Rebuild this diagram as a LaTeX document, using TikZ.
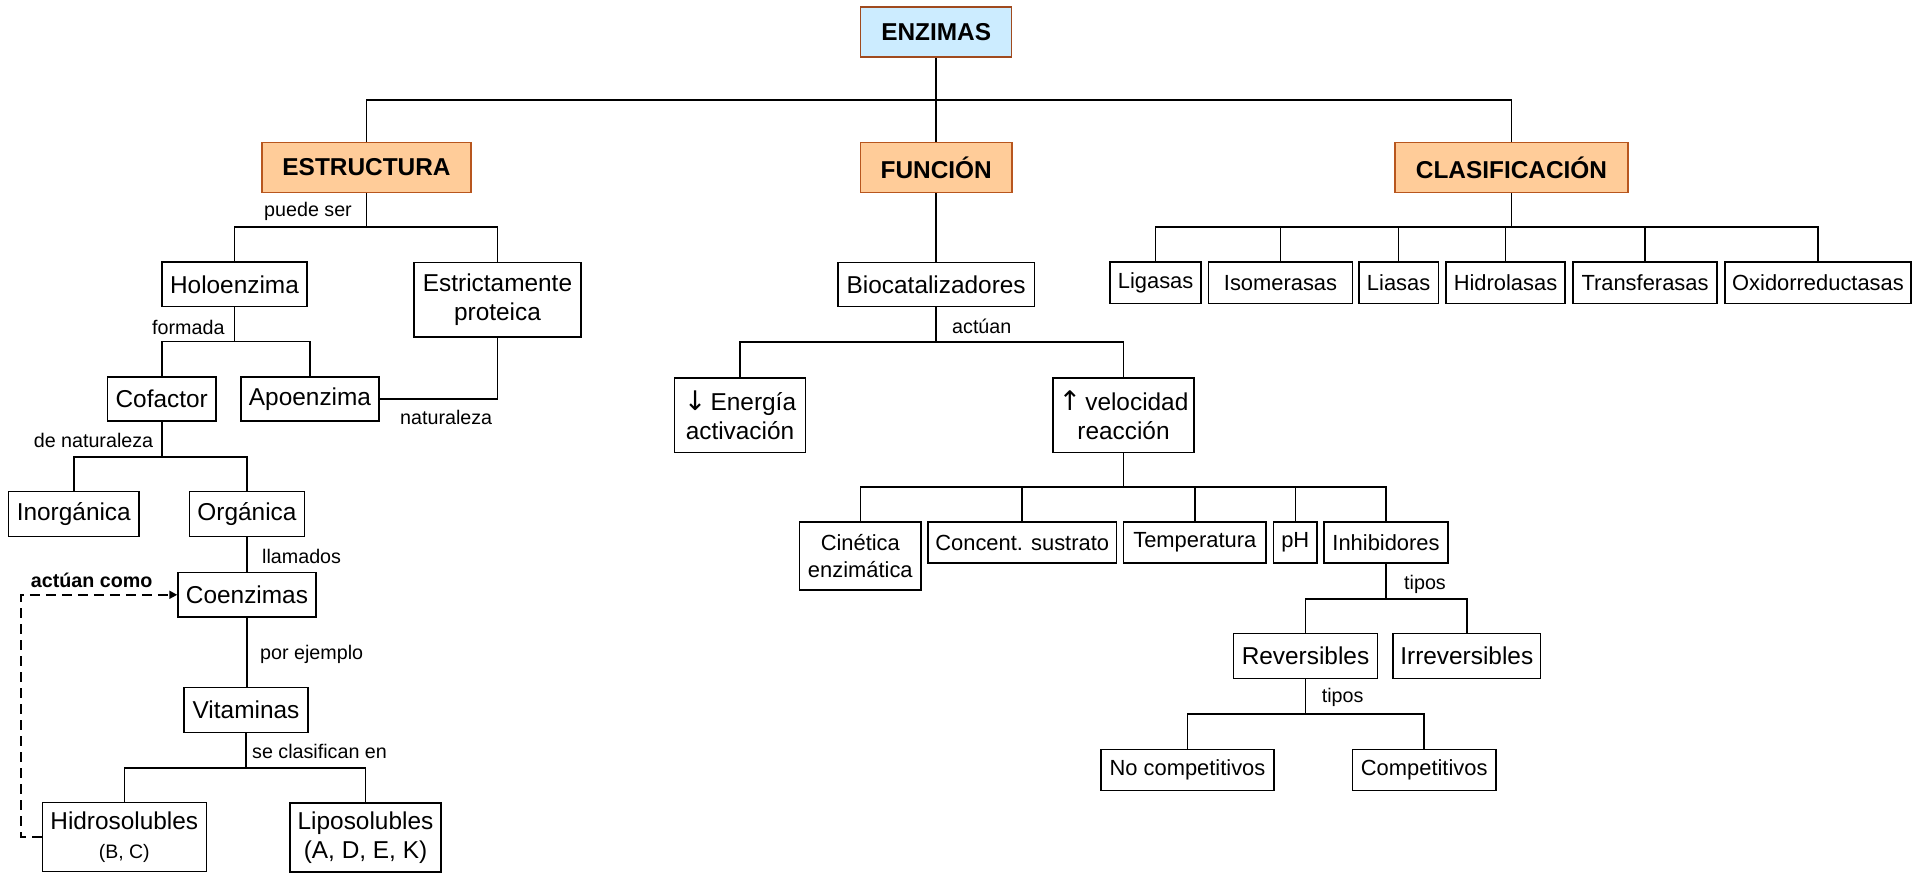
\documentclass[tikz,border=0pt]{standalone}
\usepackage{fontspec}
\setmainfont{Liberation Sans}
\newfontfamily\arrfont{DejaVu Sans}
\usetikzlibrary{arrows.meta}
\definecolor{peach}{HTML}{FFCC99}
\definecolor{hdborder}{HTML}{B8561E}
\definecolor{skyfill}{HTML}{CCECFF}
\definecolor{enzborder}{HTML}{A04A1E}
\newcommand{\bigarr}[1]{{\arrfont\fontsize{27}{29.5}\selectfont #1}}
\tikzset{
  bx/.style={draw=black, line width=1.5pt, inner sep=0pt, align=center, font=\fontsize{24.4}{29.5}\selectfont},
  bxs/.style={bx, font=\fontsize{21.9}{26.5}\selectfont},
  hd/.style={bx, fill=peach, draw=hdborder, font=\bfseries\fontsize{24.4}{29}\selectfont},
  lbl/.style={inner sep=0pt, anchor=west, font=\fontsize{19.7}{23}\selectfont},
  ln/.style={line width=1.6pt},
  dashln/.style={line width=2.3pt, dash pattern=on 10pt off 6pt, -{Triangle[length=8pt,width=8pt]}},
}
\begin{document}
\begin{tikzpicture}[x=1pt,y=-1pt]
\useasboundingbox (0,0) rectangle (1914,874);
% top
\node[hd, fill=skyfill, draw=enzborder, minimum width=151pt, minimum height=50pt] (enz) at (936.2,32) {ENZIMAS};
\node[hd, minimum width=209pt, minimum height=49.6pt] (est) at (366.5,167.5) {ESTRUCTURA};
\node[hd, minimum width=151.6pt, minimum height=49.6pt] (fun) at (936.2,167.5) {FUNCIÓN};
\node[hd, minimum width=233pt, minimum height=49.6pt] (cla) at (1511.5,167.5) {CLASIFICACIÓN};
% estructura
\node[bx, minimum width=145pt, minimum height=44.7pt] (holo) at (234.5,284.3) {Holoenzima};
\node[bx, minimum width=167pt, minimum height=74.3pt] (estr) at (497.5,299.8) {Estrictamente\\proteica};
\node[bx, minimum width=108.5pt, minimum height=44pt] (cof) at (161.7,399) {Cofactor};
\node[bx, minimum width=138pt, minimum height=44pt] (apo) at (310,399) {Apoenzima};
\node[bx, minimum width=130.3pt, minimum height=45pt] (inor) at (73.8,514.2) {Inorgánica};
\node[bx, minimum width=115pt, minimum height=45pt] (org) at (247,514.2) {Orgánica};
\node[bx, minimum width=138pt, minimum height=44.3pt] (coen) at (247,594.8) {Coenzimas};
\node[bx, minimum width=124pt, minimum height=44.6pt] (vit) at (246,710) {Vitaminas};
\node[bx, minimum width=164pt, minimum height=69pt] (hidro) at (124.3,837.2) {Hidrosolubles\\\fontsize{19.5}{23}\selectfont (B, C)};
\node[bx, minimum width=151pt, minimum height=69pt] (lipo) at (365.5,837.5) {Liposolubles\\(A, D, E, K)};
% funcion
\node[bx, minimum width=196.7pt, minimum height=44.4pt] (bio) at (936.2,284.5) {Biocatalizadores};
\node[bx, minimum width=130.6pt, minimum height=74.7pt] (ene) at (740,415.3) {\bigarr{↓}\,Energía\\activación};
\node[bx, minimum width=141pt, minimum height=74.7pt] (vel) at (1123.5,415.3) {\bigarr{↑}\,velocidad\\reacción};
\node[bxs, minimum width=121.3pt, minimum height=68pt] (cin) at (860.3,556) {Cinética\\enzimática};
\node[bxs, minimum width=188.5pt, minimum height=41pt] (con) at (1022.2,542.5) {Concent. sustrato};
\node[bxs, minimum width=142.3pt, minimum height=41pt] (tem) at (1194.8,542.5) {Temperatura};
\node[bxs, minimum width=43.3pt, minimum height=41pt] (ph) at (1295.3,542.5) {pH};
\node[bxs, minimum width=124pt, minimum height=41pt] (inh) at (1386,542.5) {Inhibidores};
\node[bx, minimum width=144pt, minimum height=44.6pt] (rev) at (1305.5,656) {Reversibles};
\node[bx, minimum width=147.4pt, minimum height=44.6pt] (irr) at (1466.8,656) {Irreversibles};
\node[bxs, minimum width=173pt, minimum height=41.4pt] (noc) at (1187.5,770) {No competitivos};
\node[bxs, minimum width=143.2pt, minimum height=41.4pt] (com) at (1424.2,770) {Competitivos};
% clasificacion
\node[bxs, minimum width=91.2pt, minimum height=41.3pt] (lig) at (1155.6,282.7) {Ligasas};
\node[bxs, minimum width=143.6pt, minimum height=41.3pt] (iso) at (1280.5,282.7) {Isomerasas};
\node[bxs, minimum width=79.3pt, minimum height=41.3pt] (lia) at (1398.6,282.7) {Liasas};
\node[bxs, minimum width=119pt, minimum height=41.3pt] (hid) at (1505.5,282.7) {Hidrolasas};
\node[bxs, minimum width=144pt, minimum height=41.3pt] (tra) at (1645,282.7) {Transferasas};
\node[bxs, minimum width=186pt, minimum height=41.3pt] (oxi) at (1818,282.7) {Oxidorreductasas};
% junctions
\coordinate (jt) at (936.2,100);
\coordinate (j1) at (366.5,227);
\coordinate (j2) at (234.5,341.7);
\coordinate (j3) at (161.7,456.7);
\coordinate (j4) at (246,767.7);
\coordinate (j5) at (936.2,342);
\coordinate (j6) at (1123.5,486.7);
\coordinate (j7) at (1386,598.7);
\coordinate (j8) at (1305.5,714);
\coordinate (j9) at (1511.5,227);
% connectors
\draw[ln] (enz.south) -- (fun.north);
\draw[ln] (est.north) |- (jt) -| (cla.north);
\draw[ln] (est.south) -- (j1);
\draw[ln] (holo.north) |- (j1) -| (estr.north);
\draw[ln] (holo.south) -- (j2);
\draw[ln] (cof.north) |- (j2) -| (apo.north);
\draw[ln] (estr.south) |- (apo.east);
\draw[ln] (cof.south) -- (j3);
\draw[ln] (inor.north) |- (j3) -| (org.north);
\draw[ln] (org.south) -- (coen.north);
\draw[ln] (coen.south) -- (coen.south |- vit.north);
\draw[ln] (vit.south) -- (j4);
\draw[ln] (hidro.north) |- (j4) -| (lipo.north);
\draw[dashln] (hidro.west) -- ++(-20.6,0) |- (coen.west);
\draw[ln] (fun.south) -- (bio.north);
\draw[ln] (bio.south) -- (j5);
\draw[ln] (ene.north) |- (j5) -| (vel.north);
\draw[ln] (vel.south) -- (j6);
\draw[ln] (cin.north) |- (j6) -| (inh.north);
\draw[ln] (con.north) -- (con.north |- j6);
\draw[ln] (tem.north) -- (tem.north |- j6);
\draw[ln] (ph.north) -- (ph.north |- j6);
\draw[ln] (inh.south) -- (j7);
\draw[ln] (rev.north) |- (j7) -| (irr.north);
\draw[ln] (rev.south) -- (j8);
\draw[ln] (noc.north) |- (j8) -| (com.north);
\draw[ln] (cla.south) -- (j9);
\draw[ln] (lig.north) |- (j9) -| (oxi.north);
\draw[ln] (iso.north) -- (iso.north |- j9);
\draw[ln] (lia.north) -- (lia.north |- j9);
\draw[ln] (hid.north) -- (hid.north |- j9);
\draw[ln] (tra.north) -- (tra.north |- j9);
% labels
\node[lbl] (l1) at (264,211) {puede ser};
\node[lbl] (l2) at (152,327) {formada};
\node[lbl] (l3) at (400,417) {naturaleza};
\node[lbl] (l4) at (33.6,440.7) {de naturaleza};
\node[lbl] (l5) at (262,556) {llamados};
\node[lbl, font=\bfseries\fontsize{19.7}{23}\selectfont] (l6) at (30.7,580) {actúan como};
\node[lbl] (l7) at (260,654) {por ejemplo};
\node[lbl] (l8) at (252,751.7) {se clasifican en};
\node[lbl] (l9) at (952,326.7) {actúan};
\node[lbl] (l10) at (1404,584) {tipos};
\node[lbl] (l11) at (1321.6,697.7) {tipos};
\end{tikzpicture}
\end{document}
